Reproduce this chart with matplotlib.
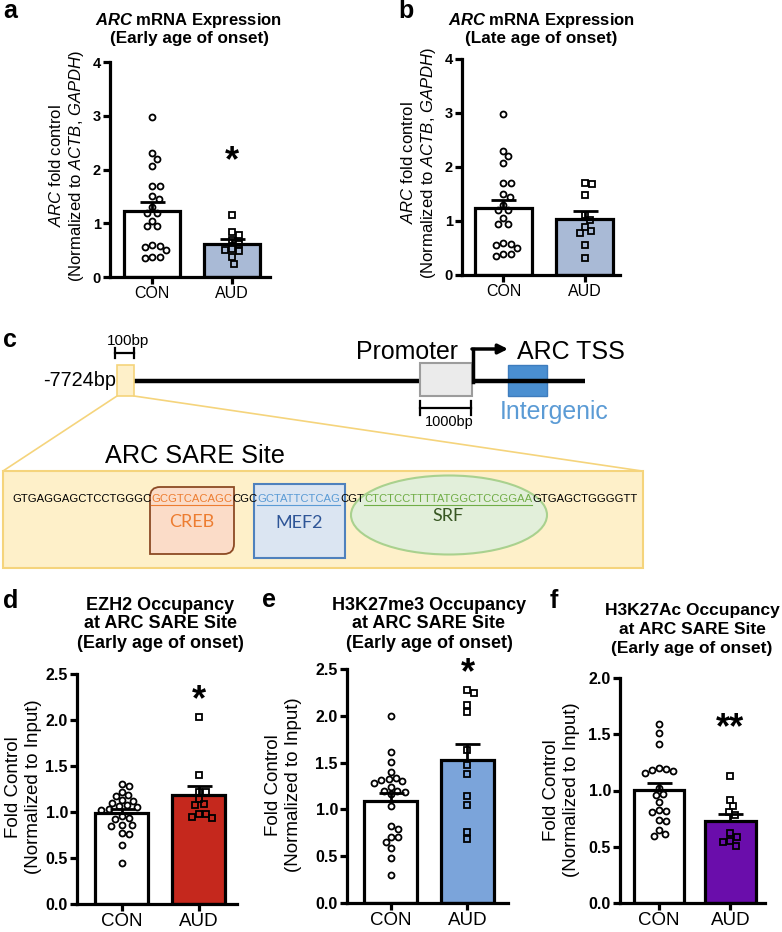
import matplotlib
matplotlib.use('Agg')
import matplotlib.pyplot as plt
import numpy as np
from matplotlib import font_manager
from matplotlib.patches import Rectangle, Ellipse, PathPatch
from matplotlib.path import Path

plt.rcParams['font.family'] = ['Liberation Sans', 'DejaVu Sans']
plt.rcParams['mathtext.fontset'] = 'custom'
plt.rcParams['mathtext.rm'] = 'Liberation Sans'
plt.rcParams['mathtext.it'] = 'Liberation Sans:italic'
plt.rcParams['mathtext.bf'] = 'Liberation Sans:bold'
plt.rcParams['mathtext.bfit'] = 'Liberation Sans:italic:bold'

try:
    font_manager.findfont('Liberation Sans Narrow', fallback_to_default=False)
    NARROW = 'Liberation Sans Narrow'
except Exception:
    NARROW = 'Liberation Sans'

# ---------------- data ----------------
groups = ['CON', 'AUD']
arc_early_con = [2.98, 2.30, 2.20, 2.07, 1.70, 1.70, 1.50, 1.45, 1.30, 1.20, 1.20,
                 1.05, 0.95, 0.95, 0.60, 0.55, 0.50, 0.58, 0.38, 0.35, 0.38]
arc_early_aud = [1.15, 0.83, 0.78, 0.68, 0.62, 0.52, 0.50, 0.48, 0.38, 0.25]
arc_late_con = [2.98, 2.30, 2.20, 2.07, 1.70, 1.70, 1.50, 1.45, 1.30, 1.20, 1.20,
                1.05, 0.95, 0.95, 0.60, 0.55, 0.50, 0.58, 0.38, 0.35, 0.38]
arc_late_aud = [1.70, 1.68, 1.48, 1.12, 1.02, 0.88, 0.81, 0.78, 0.55, 0.31]
ezh2_con = [1.30, 1.28, 1.22, 1.18, 1.17, 1.13, 1.12, 1.10, 1.07, 1.06, 1.05, 1.02,
            1.03, 0.95, 0.93, 0.92, 0.86, 0.86, 0.85, 0.77, 0.76, 0.64, 0.45]
ezh2_aud = [2.03, 1.40, 1.22, 1.22, 1.14, 1.08, 1.07, 0.98, 0.98, 0.94, 0.93]
h3k27me3_con = [2.00, 1.61, 1.51, 1.40, 1.32, 1.31, 1.28, 1.30, 1.34, 1.24, 1.20, 1.19,
                1.16, 1.20, 1.04, 0.82, 0.79, 0.71, 0.71, 0.65, 0.59, 0.48, 0.30]
h3k27me3_aud = [2.28, 2.24, 2.12, 2.04, 1.63, 1.47, 1.38, 1.14, 1.05, 0.76, 0.68]
h3k27ac_con = [1.59, 1.51, 1.41, 1.20, 1.18, 1.17, 1.19, 1.16, 1.02, 0.97, 0.96, 0.90,
               0.83, 0.82, 0.81, 0.74, 0.73, 0.65, 0.60, 0.61]
h3k27ac_aud = [1.13, 0.92, 0.86, 0.81, 0.78, 0.62, 0.59, 0.55, 0.54, 0.51]

seq_segments = ['GTGAGGAGCTCCTGGGC', 'GCGTCACAGC', 'CGC', 'GCTATTCTCAG', 'CGT',
                'CTCTCCTTTTATGGCTCCGGAA', 'GTGAGCTGGGGTT']
seq_colors = ['black', '#ed7d31', 'black', '#5b9bd5', 'black', '#70ad47', 'black']

W, H = 782, 932
fig = plt.figure(figsize=(W / 100, H / 100), dpi=100)
renderer = fig.canvas.get_renderer()


def rect(l, t, r, b):
    return [l / W, 1 - b / H, (r - l) / W, (b - t) / H]


def swarm_x(ax, xc, ys, diam):
    ys = np.asarray(ys, float)
    pts = ax.transData.transform(np.column_stack([np.full(len(ys), xc), ys]))
    py = pts[:, 1]
    px0 = pts[0, 0]
    order = np.argsort(-ys, kind='stable')
    cands = [0.0]
    for k in range(1, 80):
        cands += [k * 0.5, -k * 0.5]
    placed = []
    offs = np.zeros(len(ys))
    for i in order:
        for c in cands:
            if all((c - ox) ** 2 + (py[i] - oy) ** 2 >= diam ** 2 for ox, oy in placed):
                break
        placed.append((c, py[i]))
        offs[i] = c
    inv = ax.transData.inverted()
    return inv.transform(np.column_stack([px0 + offs, py]))[:, 0]


def bar_panel(box, xlim, con, aud, color, ylim, yticks, fmt, width, ytick_fs, xtick_fs,
              star=None, star_y=None, star_fs=26):
    ax = fig.add_axes(rect(*box))
    ax.set_xlim(*xlim)
    ax.set_ylim(*ylim)
    for sp in ['top', 'right']:
        ax.spines[sp].set_visible(False)
    for sp in ['left', 'bottom']:
        ax.spines[sp].set_linewidth(2.3)
    ax.set_yticks(yticks)
    ax.set_yticklabels([fmt.format(v) for v in yticks], fontweight='bold', fontsize=ytick_fs)
    ax.set_xticks([0, 1])
    ax.set_xticklabels(groups, fontsize=xtick_fs)
    ax.tick_params(axis='both', width=2.3, length=5, direction='out', pad=1.5)
    for i, (vals, fc, mk) in enumerate([(con, 'white', 'o'), (aud, color, 's')]):
        vals = np.asarray(vals)
        m = vals.mean()
        sem = vals.std(ddof=1) / np.sqrt(len(vals))
        ax.bar(i, m, width=width, color=fc, edgecolor='black', linewidth=2.3, zorder=2)
        xs = swarm_x(ax, i, vals, 7.2)
        ax.plot(xs, vals, linestyle='none', marker=mk, ms=4.3 if mk == 'o' else 4.0,
                mfc='none', mec='black', mew=1.3, zorder=3, clip_on=False)
        ax.errorbar(i, m, yerr=[[0], [sem]], fmt='none', ecolor='black', elinewidth=2.0,
                    capsize=9, capthick=2.0, zorder=4)
    if star:
        ax.text(1, star_y, star, ha='center', va='center', fontsize=star_fs,
                fontweight='bold', clip_on=False)
    return ax


# ---------------- panels a, b ----------------
bar_panel((110, 62, 270, 277), (-0.525, 1.475), arc_early_con, arc_early_aud, '#a9bad6',
          (0, 4), [0, 1, 2, 3, 4], '{:g}', 0.70, 10.5, 11.5, '*', 2.15)
bar_panel((462, 59, 620, 275), (-0.512, 1.438), arc_late_con, arc_late_aud, '#a9bad6',
          (0, 4), [0, 1, 2, 3, 4], '{:g}', 0.70, 10.5, 11.5)

# ---------------- panels d, e, f ----------------
bar_panel((77, 673.5, 237, 904), (-0.578, 1.5), ezh2_con, ezh2_aud, '#c5281d',
          (0, 2.5), [0, 0.5, 1.0, 1.5, 2.0, 2.5], '{:.1f}', 0.69, 11.5, 13.5, '*', 2.2)
bar_panel((347, 669, 508, 903), (-0.565, 1.526), h3k27me3_con, h3k27me3_aud, '#7ba4da',
          (0, 2.5), [0, 0.5, 1.0, 1.5, 2.0, 2.5], '{:.1f}', 0.70, 11.5, 13.5, '*', 2.45)
bar_panel((620, 678, 765, 903), (-0.545, 1.483), h3k27ac_con, h3k27ac_aud, '#6a0dab',
          (0, 2.0), [0, 0.5, 1.0, 1.5, 2.0], '{:.1f}', 0.71, 11.5, 13.5, '**', 1.55)

# ---------------- overlay for text and diagram ----------------
ov = fig.add_axes([0, 0, 1, 1], zorder=-1)
ov.set_xlim(0, W)
ov.set_ylim(H, 0)
ov.axis('off')


def T(x, y, s, **kw):
    kw.setdefault('ha', 'center')
    kw.setdefault('va', 'center')
    return ov.text(x, y, s, **kw)


def fitT(x, y, s, width_px, **kw):
    t = T(x, y, s, fontsize=10, **kw)
    w = t.get_window_extent(renderer).width
    t.set_fontsize(10 * width_px / w)
    return t


# panel letters
for x, y, s in [(3, 18, 'a'), (398, 18, 'b'), (3, 347, 'c'), (3, 608, 'd'),
                (262, 607, 'e'), (550, 608, 'f')]:
    T(x, y, s, ha='left', va='baseline', fontsize=18, fontweight='bold')

# titles
T(188, 20, r'$\mathbfit{ARC}$ mRNA Expression', fontsize=12, fontweight='bold')
T(189, 38, '(Early age of onset)', fontsize=12.3, fontweight='bold')
T(541, 20, r'$\mathbfit{ARC}$ mRNA Expression', fontsize=12, fontweight='bold')
T(541, 38, '(Late age of onset)', fontsize=12.3, fontweight='bold')
for cx, ys, first, fs in [(160, (605, 624, 643), 'EZH2 Occupancy', 13),
                          (429, (605, 624, 643), 'H3K27me3 Occupancy', 13),
                          (692, (611, 630, 649), 'H3K27Ac Occupancy', 12.5)]:
    for y, s in zip(ys, [first, 'at ARC SARE Site', '(Early age of onset)']):
        T(cx, y, s, fontsize=fs, fontweight='bold')

# y labels
T(56, 166, r'$\mathit{ARC}$ fold control', rotation=90, fontsize=12)
T(76, 166, r'(Normalized to $\mathit{ACTB}$, $\mathit{GAPDH}$)', rotation=90, fontsize=12)
T(408, 163, r'$\mathit{ARC}$ fold control', rotation=90, fontsize=12)
T(428, 163, r'(Normalized to $\mathit{ACTB}$, $\mathit{GAPDH}$)', rotation=90, fontsize=12)
for x1, x2, y in [(14, 34, 787), (274, 294, 785), (552, 572, 790)]:
    T(x1, y, 'Fold Control', rotation=90, fontsize=13.5)
    T(x2, y, '(Normalized to Input)', rotation=90, fontsize=13.5)

# ---------------- panel c diagram ----------------
yel_fc, yel_ec = '#fef0c9', '#f5d47c'
fitT(128, 341, '100bp', 42, family=[NARROW, 'DejaVu Sans'])
ov.plot([115, 134], [353, 353], color='black', lw=1.6)
ov.plot([115, 115], [348, 358], color='black', lw=1.6)
ov.plot([134, 134], [348, 358], color='black', lw=1.6)
ov.add_patch(Rectangle((117, 365), 17, 31, fc=yel_fc, ec=yel_ec, lw=1.2, zorder=3))
t = fitT(116, 381, '-7724bp', 73, ha='right', family=[NARROW, 'DejaVu Sans'])
ov.add_patch(Rectangle((508, 365), 39, 31, fc='#4a8fd1', ec='#3e7cbd', lw=1, zorder=1))
ov.plot([134, 585], [381, 381], color='black', lw=3.2, zorder=2, solid_capstyle='butt')
ov.add_patch(Rectangle((420, 363), 52, 33, fc='#ebebeb', ec='#9c9c9c', lw=1.5, zorder=3))
ov.plot([473, 473], [382, 349], color='black', lw=2.5, zorder=4)
ov.annotate('', xy=(508, 349), xytext=(472, 349),
            arrowprops=dict(arrowstyle='-|>', lw=2.5, color='black', mutation_scale=14,
                            shrinkA=0, shrinkB=0), zorder=4)
fitT(407, 352, 'Promoter', 103)
fitT(571, 352, 'ARC TSS', 108)
ov.plot([420, 471], [408, 408], color='black', lw=1.6)
ov.plot([420, 420], [401, 415], color='black', lw=1.6)
ov.plot([471, 471], [401, 415], color='black', lw=1.6)
fitT(449, 422, '1000bp', 48, family=[NARROW, 'DejaVu Sans'])
fitT(554, 412, 'Intergenic', 110, color='#5b9bd5')

ov.plot([117, 3], [396, 471], color=yel_ec, lw=1.2)
ov.plot([134, 642], [396, 471], color=yel_ec, lw=1.2)
fitT(195, 456, 'ARC SARE Site', 180)
ov.add_patch(Rectangle((3, 471), 640, 97, fc=yel_fc, ec=yel_ec, lw=1.5, zorder=1))

# CREB box: round-diagonal-corner rectangle
x0, x1, y0, y1, r = 150, 234, 487, 554, 10
verts = [(x0, y0 + r), (x0, y0), (x0 + r, y0), (x1, y0), (x1, y1 - r), (x1, y1),
         (x1 - r, y1), (x0, y1), (x0, y0 + r)]
codes = [Path.MOVETO, Path.CURVE3, Path.CURVE3, Path.LINETO, Path.LINETO, Path.CURVE3,
         Path.CURVE3, Path.LINETO, Path.CLOSEPOLY]
ov.add_patch(PathPatch(Path(verts, codes), fc='#fbdcc8', ec='#8c4a24', lw=1.3, zorder=2))
ov.add_patch(Rectangle((254, 484), 91, 74, fc='#dbe5f2', ec='#4f81bd', lw=1.5, zorder=2))
ov.add_patch(Ellipse((449, 515), 196, 79, fc='#e2efda', ec='#a9d18e', lw=1.5, zorder=2))
T(192, 522, 'CREB', fontsize=13, color='#ed7d31', family=['Lato', 'DejaVu Sans'], zorder=5)
T(299, 523, 'MEF2', fontsize=13, color='#2e5597', family=['Lato', 'DejaVu Sans'], zorder=5)
T(448, 516, 'SRF', fontsize=13, color='#385723', family=['Lato', 'DejaVu Sans'], zorder=5)

# sequence, measured to fit the span
fs0 = 8.0
tmp = [ov.text(0, 0, s, fontsize=fs0, family=[NARROW, 'DejaVu Sans']) for s in seq_segments]
tot = sum(t.get_window_extent(renderer).width for t in tmp)
for t in tmp:
    t.remove()
fs = fs0 * 624 / tot
x = 12
for s, c in zip(seq_segments, seq_colors):
    t = ov.text(x, 502, s, fontsize=fs, color=c, ha='left', va='baseline', zorder=6,
                family=[NARROW, 'DejaVu Sans'])
    w = t.get_window_extent(renderer).width
    if c != 'black':
        ov.plot([x, x + w], [504.5, 504.5], color=c, lw=0.8, zorder=6)
    x += w

fig.savefig('out.png', dpi=100)
